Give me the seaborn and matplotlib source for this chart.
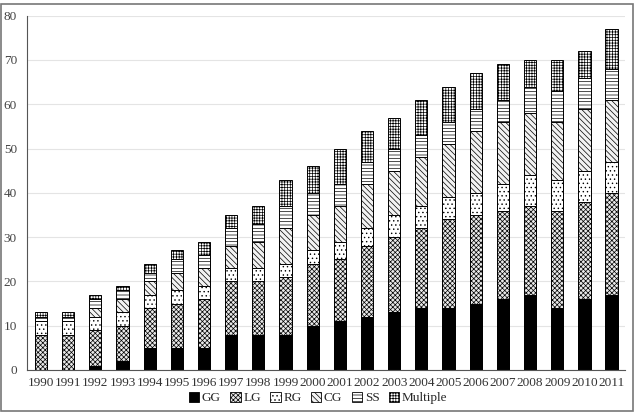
import numpy as np
import pandas as pd
import matplotlib
matplotlib.use("Agg")
import matplotlib.pyplot as plt
import seaborn as sns
from matplotlib.patches import Patch

# Données
years = [str(y) for y in range(1990, 2012)]
gg = [0, 0, 1, 2, 5, 5, 5, 8, 8, 8, 10, 11, 12, 13, 14, 14, 15, 16, 17, 14, 16, 17]
lg = [8, 8, 8, 8, 9, 10, 11, 12, 12, 13, 14, 14, 16, 17, 18, 20, 20, 20, 20, 22, 22, 23]
rg = [3, 3, 3, 3, 3, 3, 3, 3, 3, 3, 3, 4, 4, 5, 5, 5, 5, 6, 7, 7, 7, 7]
cg = [0, 0, 2, 3, 3, 4, 4, 5, 6, 8, 8, 8, 10, 10, 11, 12, 14, 14, 14, 13, 14, 14]
ss = [1, 1, 2, 2, 2, 3, 3, 4, 4, 5, 5, 5, 5, 5, 5, 5, 5, 5, 6, 7, 7, 7]
multiple = [1, 1, 1, 1, 2, 2, 3, 3, 4, 6, 6, 8, 7, 7, 8, 8, 8, 8, 6, 7, 6, 9]

series = ["GG", "LG", "RG", "CG", "SS", "Multiple"]
df = pd.DataFrame({"Année": years, "GG": gg, "LG": lg, "RG": rg,
                   "CG": cg, "SS": ss, "Multiple": multiple})

# cumuls pour l'empilement
cum = df[series].cumsum(axis=1)

styles = {
    "GG": dict(color="black", hatch=None),
    "LG": dict(color="#e8e8e8", hatch="xxxxxxx"),
    "RG": dict(color="white", hatch="...."),
    "CG": dict(color="#f2f2f2", hatch="\\\\\\\\\\\\"),
    "SS": dict(color="white", hatch="-----"),
    "Multiple": dict(color="white", hatch="++++++"),
}

sns.set_style("white")
plt.rcParams["font.family"] = ["Liberation Serif", "DejaVu Serif"]
plt.rcParams["hatch.linewidth"] = 0.5

fig = plt.figure(figsize=(6.36, 4.12), dpi=100)
ax = fig.add_axes([0.043, 0.102, 0.94, 0.86])

# on dessine du plus haut cumul vers le bas
for s in reversed(series):
    n_before = len(ax.patches)
    sns.barplot(x=df["Année"], y=cum[s], color=styles[s]["color"],
                width=0.45, edgecolor="black", linewidth=0.7, ax=ax,
                saturation=1)
    for p in ax.patches[n_before:]:
        if styles[s]["hatch"]:
            p.set_hatch(styles[s]["hatch"])

ax.set_ylim(0, 80)
ax.set_yticks(range(0, 81, 10))
ax.set_xlim(-0.5, len(years) - 0.5)
ax.yaxis.grid(True, color="#e4e4e4", linewidth=0.8)
ax.set_axisbelow(True)
ax.set_xlabel("")
ax.set_ylabel("")

for side in ["top", "right"]:
    ax.spines[side].set_visible(False)
ax.spines["left"].set_color("#555555")
ax.spines["bottom"].set_color("#555555")

ax.tick_params(axis="x", which="major", length=0, labelsize=9.5,
               colors="#333333", pad=5)
ax.set_xticks(np.arange(-0.5, len(years), 1), minor=True)
ax.tick_params(axis="x", which="minor", length=4, color="#555555",
               direction="out")
ax.tick_params(axis="y", length=4, color="#555555", labelsize=9.5,
               colors="#444444", direction="out")

handles = [Patch(facecolor=styles[s]["color"], edgecolor="black",
                 hatch=styles[s]["hatch"], linewidth=0.6, label=s)
           for s in series]
fig.legend(handles=handles, loc="lower center", ncol=6, frameon=False,
           bbox_to_anchor=(0.5, -0.01), fontsize=9.5, handlelength=0.8,
           handleheight=0.8, handletextpad=0.2, columnspacing=0.7)

# cadre autour de la figure
fig.patches.append(plt.Rectangle((0.002, 0.002), 0.994, 0.988,
                                 transform=fig.transFigure, fill=False,
                                 edgecolor="#777777", linewidth=1.2))

fig.savefig("out.png", dpi=100)
